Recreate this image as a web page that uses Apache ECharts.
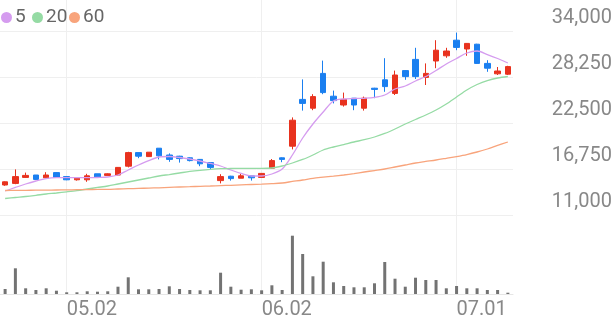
<!DOCTYPE html>
<html>
<head>
<meta charset="utf-8">
<script src="https://cdn.jsdelivr.net/npm/echarts@6/dist/echarts.min.js"></script>
<style>
html,body{margin:0;padding:0;background:#fff;}
#chart{width:616px;height:321px;}
</style>
</head>
<body>
<div id="chart"></div>
<script>
var dates = ['04.23','04.24','04.25','04.28','04.29','04.30','05.02','05.07','05.08','05.09',
  '05.12','05.13','05.14','05.15','05.16','05.19','05.20','05.21','05.22','05.23',
  '05.26','05.27','05.28','05.29','05.30','06.02','06.04','06.05','06.09','06.10',
  '06.11','06.12','06.13','06.16','06.17','06.18','06.19','06.20','06.23','06.24',
  '06.25','06.26','06.27','06.30','07.01','07.02','07.03','07.04','07.07','07.08'];

// [open, close, low, high]
var ohlc = [
  [14750,15150,14650,15200],[14950,15800,14850,16700],[15700,15950,15650,16300],[16000,15450,15400,16000],
  [15650,16000,15600,16350],[16300,15700,15650,16350],[15800,15400,15350,15800],[15400,15600,15300,15600],
  [15400,15900,15150,16150],[16150,15750,15650,16150],[15950,16150,15950,16200],[16000,16950,15950,17000],
  [17100,18800,16950,18900],[18800,18350,18100,18800],[18300,18850,18250,18850],[19350,18400,17950,19350],
  [18500,17950,17650,18700],[18350,18050,17550,18400],[18150,17800,17700,18200],[17950,17400,17100,18000],
  [17550,16950,16700,17550],[15300,15800,14950,16100],[15850,15550,15300,15900],[15600,15900,15600,16150],
  [15900,15650,15300,15900],[15700,16200,15700,16250],[16850,17800,16800,18000],[18150,17950,17600,18200],
  [19600,22850,19200,23200],[25450,24950,24050,27950],[24350,25800,24100,26100],[28700,26300,26100,30300],
  [25850,25300,24950,26550],[24750,25450,24550,26300],[25600,24750,24100,25600],[24350,25600,24050,25800],
  [26850,26700,25600,26900],[27900,27050,26400,30600],[26200,28500,26000,29050],[29050,28300,27900,29100],
  [30450,28300,28000,31900],[28200,28700,27250,29950],[30250,31600,29350,32850],[30900,31500,30650,31900],
  [32850,31950,31600,33800],[31750,32450,30900,32500],[32350,29950,29900,32400],[29950,29350,28900,30350],
  [28650,29000,28500,29500],[28600,29550,28500,29650]
];

var ma5 = [14000,14440,14875,15250,15560,15660,15660,15660,15660,15690,
  15750,16000,16625,17250,17810,18250,18310,18190,18000,17750,
  17440,17125,16625,16190,15875,15875,16125,16750,18500,20625,
  22375,23875,25250,25500,25560,25590,25690,26000,26750,27125,
  27750,28310,29060,29875,30560,31250,31500,31060,30560,30000];

var ma20 = [13060,13190,13310,13460,13625,13750,13900,14060,14250,14440,
  14625,14875,15125,15375,15625,15875,16060,16250,16440,16590,
  16710,16790,16810,16840,16840,16840,16875,17125,17500,17940,
  18500,19125,19500,19810,20125,20410,20750,21190,21750,22375,
  22940,23500,24125,24875,25750,26625,27310,27810,28125,28310];

var ma60 = [14060,14075,14090,14100,14110,14125,14140,14160,14175,14200,
  14210,14250,14290,14325,14360,14400,14450,14500,14540,14590,
  14625,14675,14710,14760,14810,14850,14910,15000,15190,15375,
  15590,15725,15850,16000,16175,16375,16560,16750,17000,17250,
  17500,17690,17875,18090,18310,18560,18875,19250,19690,20125];

var volume = [50,257,57,40,57,33,17,17,27,23,
  27,73,167,47,47,50,77,50,40,37,
  37,213,73,43,47,37,87,40,583,400,
  177,323,117,80,67,67,107,320,153,73,
  163,140,140,57,80,57,57,40,40,13];

var priceTicks = [11000,16750,22500,28250,34000];
var dateMarks = ['05.02','06.02','07.01'];
var legendNames = ['5','20','60'];
var legendLefts = [1, 32, 69];

var GRID_LINE = '#efefef';
var vlines = dateMarks.map(function(d){ return {xAxis: d}; });

var legends = legendNames.map(function(n, i){
  return {
    data: [n], icon: 'circle', itemWidth: 11, itemHeight: 11,
    left: legendLefts[i], top: 8, padding: 0, selectedMode: false,
    textStyle: {fontSize: 19, color: '#666', fontFamily: 'Roboto', padding: [0,0,0,-2]}
  };
});

var chart = echarts.init(document.getElementById('chart'), null, {renderer:'canvas'});
chart.setOption({
  animation: false,
  textStyle: {fontFamily: 'Roboto'},
  legend: legends,
  grid: [
    {left: 0, top: 0, width: 513, height: 215},
    {left: 0, top: 215, width: 513, height: 79}
  ],
  xAxis: [
    {type:'category', gridIndex:0, data: dates, boundaryGap: true,
     axisLine:{show:false}, axisTick:{show:false}, axisLabel:{show:false}, splitLine:{show:false}},
    {type:'category', gridIndex:1, data: dates, boundaryGap: true,
     axisLine:{show:true, lineStyle:{color:'#e6e6e6', width:1}}, axisTick:{show:false},
     axisLabel:{show:true, align:'left', margin:6, fontSize:20, color:'#888', fontFamily:'Roboto',
       interval: function(i, v){ return dateMarks.indexOf(v) >= 0; }},
     splitLine:{show:false}}
  ],
  yAxis: [
    {type:'value', gridIndex:0, position:'right', min:11000, max:37875, scale:true,
     axisLine:{show:false},
     axisTick:{show:false, customValues: priceTicks},
     axisLabel:{show:true, customValues: priceTicks, align:'right', verticalAlign:'bottom', margin:99,
       fontSize:20, color:'#888', fontFamily:'Roboto', padding:[0,0,3,0],
       formatter: function(v){ return v.toLocaleString('en-US'); }},
     splitLine:{show:true, lineStyle:{color:GRID_LINE, width:1}}},
    {type:'value', gridIndex:1, min:0, max:790, show:false, splitLine:{show:false}}
  ],
  series: [
    {name:'candle', type:'candlestick', xAxisIndex:0, yAxisIndex:0, data: ohlc, barWidth: 6, z: 3,
     itemStyle:{color:'#e8321e', color0:'#1a7ff0', borderColor:'#e8321e', borderColor0:'#1a7ff0', borderWidth:1},
     markLine:{silent:true, symbol:'none', z:1, label:{show:false}, animation:false,
       lineStyle:{color:GRID_LINE, width:1, type:'solid'}, emphasis:{disabled:true}, data: vlines}},
    {name:'5', type:'line', xAxisIndex:0, yAxisIndex:0, data: ma5, showSymbol:false, smooth:0.3, z:4,
     lineStyle:{width:1.3, color:'#d59cef'}, itemStyle:{color:'#d59cef'}},
    {name:'20', type:'line', xAxisIndex:0, yAxisIndex:0, data: ma20, showSymbol:false, smooth:0.3, z:4,
     lineStyle:{width:1.3, color:'#95dba4'}, itemStyle:{color:'#95dba4'}},
    {name:'60', type:'line', xAxisIndex:0, yAxisIndex:0, data: ma60, showSymbol:false, smooth:0.3, z:4,
     lineStyle:{width:1.3, color:'#f8a47c'}, itemStyle:{color:'#f8a47c'}},
    {name:'vol', type:'bar', xAxisIndex:1, yAxisIndex:1, data: volume, barWidth: 3,
     itemStyle:{color:'#737373'},
     markLine:{silent:true, symbol:'none', z:1, label:{show:false}, animation:false,
       lineStyle:{color:GRID_LINE, width:1, type:'solid'}, emphasis:{disabled:true}, data: vlines}}
  ]
});
</script>
</body>
</html>
